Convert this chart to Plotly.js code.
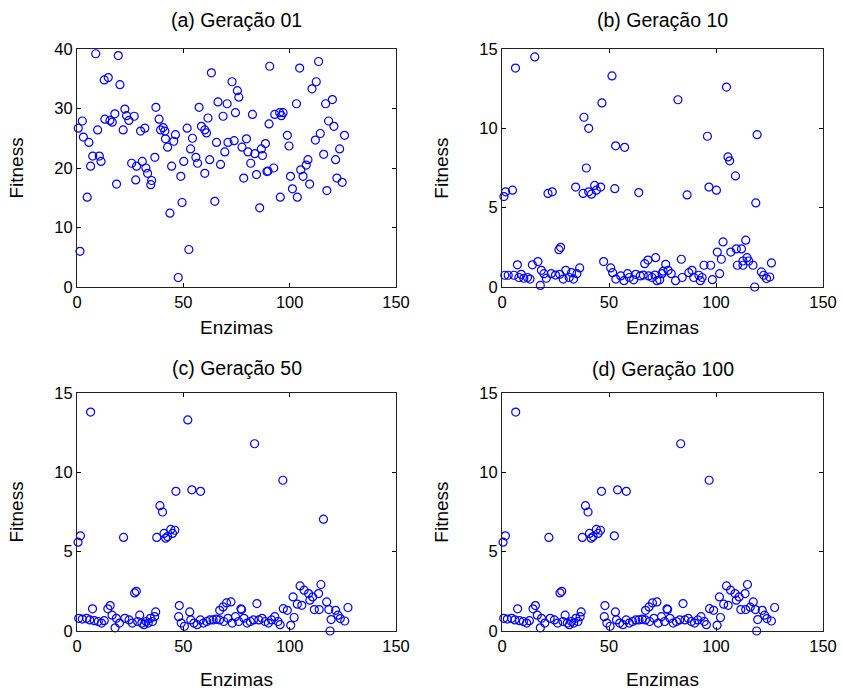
<!DOCTYPE html>
<html>
<head>
<meta charset="utf-8">
<script src="https://cdn.plot.ly/plotly-3.0.1.min.js"></script>
<style>html,body{margin:0;padding:0;background:#fff;}#chart{width:842px;height:690px;}</style>
</head>
<body>
<div id="chart"></div>
<script>
// ---- Data ----
const panelTitles = ["(a) Geração 01", "(b) Geração 10", "(c) Geração 50", "(d) Geração 100"];
const xLabel = "Enzimas";
const yLabel = "Fitness";
const xTicks = [0, 50, 100, 150];
const yTicksA = [0, 10, 20, 30, 40];
const yTicksB = [0, 5, 10, 15];

// (a) Geração 01
const genA_x = [8.8,19.4,12.8,14.7,20.2,63.2,72.9,75.4,76.1,90.6,66.3,70.6,57.4,37.1,22.5,23.3,17.8,13.1,15.5,16.6,2.5,0.6,9.7,21.7,24.4,26.9,29.9,31.9,38.6,39.3,40.5,41.3,41.6,42.6,45.5,46.3,51.8,54.3,53.4,58.5,60.1,60.9,61.6,68.7,74.5,82.5,90.3,65.6,71.0,73.9,69.5,79.7,77.6,80.4,83.6,86.7,87.2,88.6,81.7,78.4,84.4,89.3,85.9,7.4,10.5,11.3,6.4,5.6,3.0,18.6,25.7,28.0,30.7,32.4,33.2,35.1,34.7,27.6,36.6,44.5,48.8,50.2,55.9,56.7,62.4,67.5,60.1,4.8,43.7,49.4,64.8,1.4,52.6,47.6,
  104.7,113.6,112.5,110.5,120.1,116.9,103.2,93.0,95.3,96.9,96.1,118.3,120.8,125.8,114.4,112.1,98.9,99.7,123.5,121.6,116.0,108.6,107.8,105.2,106.3,109.4,100.4,101.3,103.6,95.6,122.2,124.7,117.5,89.8,92.5];
const genA_y = [39.2,38.9,34.8,35.2,34.0,36.0,34.5,33.0,31.9,37.1,31.1,30.8,30.2,30.2,29.9,28.8,29.1,28.2,28.0,27.7,27.9,26.7,26.4,26.4,28.0,28.7,26.2,26.7,28.2,26.4,26.8,26.2,24.9,23.5,24.5,25.6,26.7,25.0,23.2,27.0,26.4,25.9,28.4,28.7,29.3,29.0,27.4,24.3,24.3,24.6,22.7,24.9,23.5,22.7,22.4,23.2,22.1,24.1,20.8,18.3,18.9,19.4,13.3,22.0,22.0,21.1,20.3,24.3,25.2,17.3,20.8,20.3,21.1,20.0,19.1,17.9,17.2,18.0,21.8,20.3,18.6,21.1,21.8,20.8,21.4,20.6,19.1,15.1,12.4,14.2,14.4,6.0,6.3,1.6,
  36.8,37.9,34.5,33.3,31.5,30.8,30.8,29.0,29.3,29.3,28.8,27.9,27.0,25.5,25.8,24.7,25.5,23.7,23.2,21.4,22.3,21.4,20.5,19.7,18.6,17.3,18.6,16.5,15.1,15.1,18.3,17.6,16.2,19.5,20.0];

// (b) Geração 10
const genB_x = [6.3,15.3,51.4,46.7,38.3,40.5,53.1,57.3,39.4,0.9,1.7,4.9,21.5,23.5,34.4,37.9,41.8,43.3,44.1,46.1,40.5,52.7,63.9,26.6,27.4,
  104.9,82.2,96.0,119.2,105.6,106.4,109.1,96.7,100.2,86.5,118.6,
  103.3,113.9,100.6,102.5,106.9,109.5,111.9,114.5,115.3,112.6,110.0,112.6,117.3,125.9,83.8,94.4,97.5,71.8,68.2,66.7,76.5,118.1,121.2,122.3,123.6,125.1,101.7,98.3,
  7.2,16.8,14.2,47.5,50.8,36.3,1.3,2.9,5.6,7.9,10.2,11.9,13.1,18.4,19.6,20.7,23.0,25.0,29.8,28.6,31.4,33.4,35.0,17.9,51.7,53.2,58.7,59.5,61.5,64.6,66.0,68.5,71.5,73.7,75.3,77.6,79.1,70.1,72.4,74.8,81.1,84.2,87.3,88.8,89.6,92.0,92.7,93.5,55.5,57.0,9.0,27.0,32.5,62.5];
const genB_y = [13.8,14.5,13.3,11.6,10.7,10.0,8.9,8.8,7.5,5.7,6.0,6.1,5.9,6.0,6.3,5.9,5.85,6.4,6.1,6.3,6.0,6.2,5.95,2.35,2.5,
  12.6,11.8,9.5,9.6,8.2,7.95,7.0,6.3,6.1,5.8,5.3,
  2.84,2.95,2.2,1.75,2.2,2.4,2.4,1.85,1.64,1.64,1.37,1.37,1.37,1.52,1.75,1.37,1.37,1.85,1.7,1.47,1.43,0.0,0.95,0.74,0.53,0.63,0.84,0.46,
  1.4,1.6,1.4,1.6,1.2,1.2,0.74,0.74,0.74,0.6,0.55,0.6,0.5,1.05,0.84,0.55,0.84,0.75,1.05,0.5,0.6,0.5,0.84,0.1,0.9,0.5,0.84,0.6,0.45,0.7,0.75,0.7,0.75,0.45,1.0,1.05,0.84,0.6,0.4,0.84,0.4,0.6,0.9,1.05,0.6,0.74,0.4,0.6,0.7,0.4,0.8,0.8,0.9,0.8];

// (c) Geração 50
const genC_x = [6.4,52.1,46.5,54.0,58.1,39.0,40.2,0.5,1.6,21.9,37.5,40.9,42.6,44.1,44.9,46.0,41.7,27.1,27.9,
  83.5,96.8,115.9,
  104.9,114.7,106.8,108.9,110.8,113.6,109.5,101.6,103.6,105.7,111.6,113.9,117.4,118.4,127.4,121.6,122.7,123.8,125.9,119.5,119.0,84.6,97.0,98.9,102.1,100.5,70.3,72.4,68.7,77.4,
  7.3,14.5,15.6,48.1,53.0,67.1,77.1,37.0,17.9,0.8,2.5,4.5,6.0,8.2,10.0,11.5,12.8,16.5,18.5,20.0,22.5,24.5,26.0,28.5,29.5,30.5,31.5,32.5,33.5,34.5,35.5,36.5,47.8,49.0,50.5,53.5,55.0,56.5,58.0,59.5,61.0,62.5,64.0,65.5,67.0,69.0,71.0,73.0,74.5,76.0,78.5,80.0,81.5,83.0,85.5,87.0,88.5,90.0,91.5,93.0,94.5,95.5];
const genC_y = [13.8,13.3,8.8,8.9,8.8,7.9,7.5,5.6,6.0,5.9,5.9,6.15,5.95,6.4,6.15,6.35,5.85,2.4,2.5,
  11.8,9.5,7.05,
  2.84,2.93,2.57,2.36,2.15,2.36,1.94,2.15,1.69,1.62,1.35,1.35,1.83,1.35,1.48,1.3,1.0,0.78,0.63,0.72,0.0,1.73,1.41,1.3,0.85,0.36,1.77,1.83,1.52,1.35,
  1.4,1.4,1.6,1.6,1.2,1.3,1.4,1.2,0.2,0.8,0.75,0.8,0.7,0.65,0.6,0.5,0.65,1.0,0.8,0.5,0.8,0.7,0.5,0.6,1.0,0.5,0.4,0.6,0.5,0.8,0.6,0.9,0.9,0.5,0.3,0.7,0.5,0.4,0.7,0.5,0.6,0.7,0.7,0.75,0.7,0.6,0.8,0.5,0.9,0.6,0.8,0.5,0.6,0.7,0.7,0.8,0.6,0.5,0.7,0.9,0.6,0.4];

// (d) Geração 100
const genD_x = [6.4,46.5,54.0,58.1,39.0,40.2,0.5,1.6,21.9,37.5,40.9,42.6,44.1,44.9,46.0,41.7,52.5,27.1,27.9,
  83.5,96.8,
  104.9,114.7,106.8,108.9,110.8,113.6,109.5,101.6,103.6,105.7,111.6,113.9,117.4,118.4,127.4,121.6,122.7,123.8,125.9,119.5,119.0,84.6,97.0,98.9,102.1,100.5,70.3,72.4,68.7,77.4,116.0,
  7.3,14.5,15.6,48.1,53.0,67.1,77.1,37.0,17.9,0.8,2.5,4.5,6.0,8.2,10.0,11.5,12.8,16.5,18.5,20.0,22.5,24.5,26.0,28.5,29.5,30.5,31.5,32.5,33.5,34.5,35.5,36.5,47.8,49.0,50.5,53.5,55.0,56.5,58.0,59.5,61.0,62.5,64.0,65.5,67.0,69.0,71.0,73.0,74.5,76.0,78.5,80.0,81.5,83.0,85.5,87.0,88.5,90.0,91.5,93.0,94.5,95.5];
const genD_y = [13.8,8.8,8.9,8.8,7.9,7.5,5.6,6.0,5.9,5.9,6.15,5.95,6.4,6.15,6.35,5.85,6.0,2.4,2.5,
  11.8,9.5,
  2.84,2.93,2.57,2.36,2.15,2.36,1.94,2.15,1.69,1.62,1.35,1.35,1.83,1.35,1.48,1.3,1.0,0.78,0.63,0.72,0.0,1.73,1.41,1.3,0.85,0.36,1.77,1.83,1.52,1.35,1.5,
  1.4,1.4,1.6,1.6,1.2,1.3,1.4,1.2,0.2,0.8,0.75,0.8,0.7,0.65,0.6,0.5,0.65,1.0,0.8,0.5,0.8,0.7,0.5,0.6,1.0,0.5,0.4,0.6,0.5,0.8,0.6,0.9,0.9,0.5,0.3,0.7,0.5,0.4,0.7,0.5,0.6,0.7,0.7,0.75,0.7,0.6,0.8,0.5,0.9,0.6,0.8,0.5,0.6,0.7,0.7,0.8,0.6,0.5,0.7,0.9,0.6,0.4];

// ---- Figure ----
const W = 842, H = 690;
const FONT = "Liberation Sans, Arial, sans-serif";
const marker = {symbol: "circle-open", size: 8, color: "#0000FF", line: {width: 1.2, color: "#0000FF"}};

function mk(x, y, xa, ya) {
  return {x: x, y: y, xaxis: xa, yaxis: ya, type: "scatter", mode: "markers",
          marker: marker, cliponaxis: false, hoverinfo: "x+y", showlegend: false};
}
const traces = [
  mk(genA_x, genA_y, "x", "y"),
  mk(genB_x, genB_y, "x2", "y2"),
  mk(genC_x, genC_y, "x3", "y3"),
  mk(genD_x, genD_y, "x4", "y4")
];

const colL = [77 / W, 396 / W], colR = [502 / W, 823 / W];
const rowT = [1 - 287 / H, 1 - 49 / H], rowB = [1 - 631 / H, 1 - 393 / H];

function xax(dom, anchor, standoff) {
  return {domain: dom, anchor: anchor, range: [0, 150], tickvals: xTicks, ticktext: xTicks.map(String),
    ticks: "inside", ticklen: 4, tickcolor: "#000", showline: true, mirror: "ticks", linecolor: "#222", linewidth: 1,
    showgrid: false, zeroline: false, tickfont: {family: FONT, size: 16.5, color: "#000"},
    title: {text: xLabel, font: {family: FONT, size: 19, color: "#000"}, standoff: standoff}, automargin: false};
}
function yax(dom, anchor, range, ticks) {
  return {domain: dom, anchor: anchor, range: range, tickvals: ticks, ticktext: ticks.map(String),
    ticks: "inside", ticklen: 4, tickcolor: "#000", showline: true, mirror: "ticks", linecolor: "#222", linewidth: 1,
    showgrid: false, zeroline: false, tickfont: {family: FONT, size: 16.5, color: "#000"},
    title: {text: yLabel, font: {family: FONT, size: 19, color: "#000"}, standoff: 25}, automargin: false};
}

const titlePos = [
  {x: (77 + 396) / 2 / W, y: 1 - 20 / H},
  {x: (502 + 823) / 2 / W, y: 1 - 20 / H},
  {x: (77 + 396) / 2 / W, y: 1 - 368 / H},
  {x: (502 + 823) / 2 / W, y: 1 - 369 / H}
];
const annotations = panelTitles.map((t, i) => ({
  text: t, xref: "paper", yref: "paper", x: titlePos[i].x, y: titlePos[i].y,
  xanchor: "center", yanchor: "middle", showarrow: false,
  font: {family: FONT, size: 19.5, color: "#000"}
}));

const layout = {
  width: W, height: H, margin: {l: 0, r: 0, t: 0, b: 0},
  paper_bgcolor: "#fff", plot_bgcolor: "#fff", showlegend: false,
  font: {family: FONT, color: "#000"},
  xaxis: xax(colL, "y", 10), yaxis: yax(rowT, "x", [0, 40], yTicksA),
  xaxis2: xax(colR, "y2", 10), yaxis2: yax(rowT, "x2", [0, 15], yTicksB),
  xaxis3: xax(colL, "y3", 19), yaxis3: yax(rowB, "x3", [0, 15], yTicksB),
  xaxis4: xax(colR, "y4", 19), yaxis4: yax(rowB, "x4", [0, 15], yTicksB),
  annotations: annotations
};

Plotly.newPlot("chart", traces, layout, {displayModeBar: false, staticPlot: true});
</script>
</body>
</html>
